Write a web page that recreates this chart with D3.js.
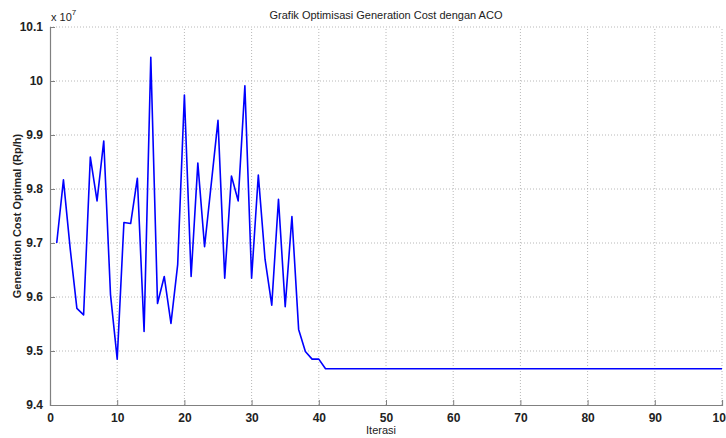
<!DOCTYPE html>
<html>
<head>
<meta charset="utf-8">
<script src="https://cdn.jsdelivr.net/npm/d3@7"></script>
<style>
  body { margin: 0; background: #fff; }
  text { font-family: 'Liberation Sans', Arial, sans-serif; }
</style>
</head>
<body>
<div id="chart"></div>
<script>

// data (cost values in units of 10^7 Rp/h, iterasi 1..100)
const iterations = d3.range(1, 101);
const costValues = [
  9.700, 9.817, 9.690, 9.579, 9.567, 9.859, 9.778, 9.889, 9.605, 9.485,
  9.738, 9.736, 9.820, 9.536, 10.044, 9.588, 9.638, 9.551, 9.660, 9.974,
  9.638, 9.848, 9.693, 9.810, 9.927, 9.635, 9.824, 9.778, 9.991, 9.635,
  9.826, 9.670, 9.585, 9.781, 9.582, 9.749, 9.540, 9.499, 9.485, 9.485,
  9.467, 9.467, 9.467, 9.467, 9.467, 9.467, 9.467, 9.467, 9.467, 9.467,
  9.467, 9.467, 9.467, 9.467, 9.467, 9.467, 9.467, 9.467, 9.467, 9.467,
  9.467, 9.467, 9.467, 9.467, 9.467, 9.467, 9.467, 9.467, 9.467, 9.467,
  9.467, 9.467, 9.467, 9.467, 9.467, 9.467, 9.467, 9.467, 9.467, 9.467,
  9.467, 9.467, 9.467, 9.467, 9.467, 9.467, 9.467, 9.467, 9.467, 9.467,
  9.467, 9.467, 9.467, 9.467, 9.467, 9.467, 9.467, 9.467, 9.467, 9.467
];
const xTicks = [0, 10, 20, 30, 40, 50, 60, 70, 80, 90, 100];
const yTicks = [9.4, 9.5, 9.6, 9.7, 9.8, 9.9, 10, 10.1];

const width = 726;
const height = 438;
const margin = { top: 27, right: 4, bottom: 33, left: 50 };

const svg = d3.select('#chart')
  .append('svg')
  .attr('width', width)
  .attr('height', height);

const x = d3.scaleLinear()
  .domain([0, 100])
  .range([margin.left, width - margin.right]);

const y = d3.scaleLinear()
  .domain([9.4, 10.1])
  .range([height - margin.bottom, margin.top]);

// grid
svg.append('g')
  .selectAll('line')
  .data(xTicks.slice(1))
  .enter()
  .append('line')
  .attr('x1', d => x(d)).attr('x2', d => x(d))
  .attr('y1', y(9.4)).attr('y2', y(10.1))
  .attr('stroke', '#b8b8b8')
  .attr('stroke-dasharray', '1,2');

svg.append('g')
  .selectAll('line')
  .data(yTicks.slice(1))
  .enter()
  .append('line')
  .attr('x1', x(0)).attr('x2', x(100))
  .attr('y1', d => y(d)).attr('y2', d => y(d))
  .attr('stroke', '#b8b8b8')
  .attr('stroke-dasharray', '1,2');

// axes
const xAxis = svg.append('g')
  .attr('transform', `translate(0,${y(9.4)})`)
  .call(d3.axisBottom(x).tickValues(xTicks).tickSize(-5).tickPadding(8).tickFormat(d3.format('d')));

const yAxis = svg.append('g')
  .attr('transform', `translate(${x(0)},0)`)
  .call(d3.axisLeft(y).tickValues(yTicks).tickSize(-5).tickPadding(7).tickFormat(d => d === 10 ? '10' : d3.format('.1f')(d)));

[xAxis, yAxis].forEach(g => {
  g.select('.domain').attr('stroke', '#808080').attr('stroke-width', 1.2);
  g.selectAll('.tick line').attr('stroke', '#808080');
  g.selectAll('.tick text')
    .attr('fill', '#222')
    .attr('font-size', '12px')
    .attr('font-weight', 'bold')
    .attr('font-family', "'Liberation Sans', Arial, sans-serif");
});

// line
const line = d3.line()
  .x((d, i) => x(iterations[i]))
  .y(d => y(d));

svg.append('path')
  .datum(costValues)
  .attr('fill', 'none')
  .attr('stroke', '#0000ff')
  .attr('stroke-width', 1.6)
  .attr('stroke-linejoin', 'round')
  .attr('d', line);

// labels
svg.append('text')
  .attr('x', (x(0) + x(100)) / 2)
  .attr('y', 19)
  .attr('text-anchor', 'middle')
  .attr('font-size', '11px')
  .attr('fill', '#222')
  .text('Grafik Optimisasi Generation Cost dengan ACO');

svg.append('text')
  .attr('x', (x(0) + x(100)) / 2 - 5)
  .attr('y', 434)
  .attr('text-anchor', 'middle')
  .attr('font-size', '11px')
  .attr('fill', '#222')
  .text('Iterasi');

svg.append('text')
  .attr('transform', `translate(21,${(y(9.4) + y(10.1)) / 2}) rotate(-90)`)
  .attr('text-anchor', 'middle')
  .attr('font-size', '11px')
  .attr('font-weight', 'bold')
  .attr('fill', '#222')
  .text('Generation Cost Optimal (Rp/h)');

const expo = svg.append('text')
  .attr('x', 51)
  .attr('y', 21)
  .attr('font-size', '11px')
  .attr('fill', '#222')
  .text('x 10');
expo.append('tspan')
  .attr('dy', -6)
  .attr('font-size', '8px')
  .text('7');

</script>
</body>
</html>
